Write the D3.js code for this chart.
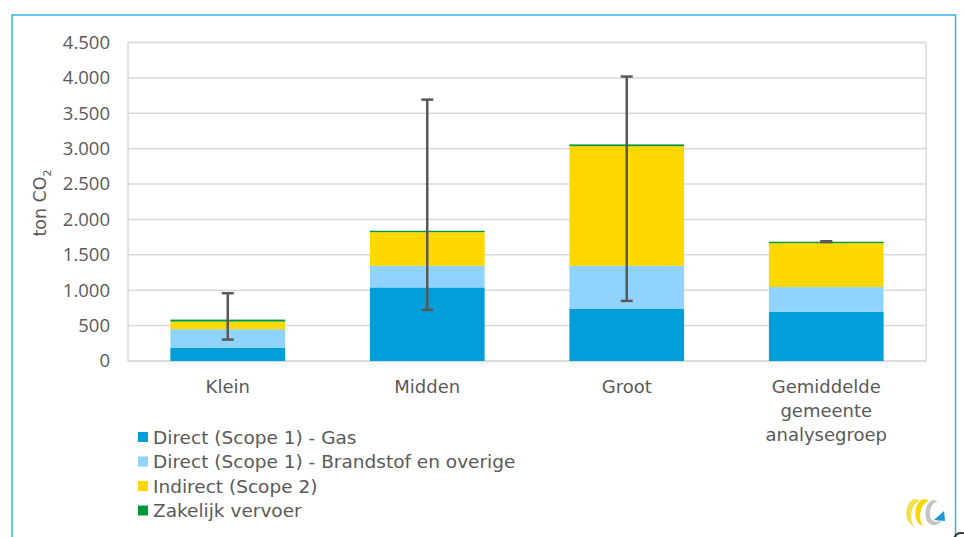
<!DOCTYPE html>
<html>
<head>
<meta charset="utf-8">
<script src="https://cdn.jsdelivr.net/npm/d3@7"></script>
<style>
  body { margin: 0; background: #fff; }
  svg { display: block; }
  .tick text { font-family: "Open Sans", sans-serif; font-size: 18.5px; fill: #595959; }
  .cat, .legend text, .ytitle { font-family: "DejaVu Sans", sans-serif; fill: #595959; }
</style>
</head>
<body>
<svg width="964" height="537"></svg>
<script>
const svg = d3.select("svg");

// data
const categories = ["Klein", "Midden", "Groot", "Gemiddelde gemeente analysegroep"];
const seriesNames = [
  "Direct (Scope 1) - Gas",
  "Direct (Scope 1) - Brandstof en overige",
  "Indirect (Scope 2)",
  "Zakelijk vervoer"
];
const gas = [190, 1040, 740, 695];
const brandstof = [260, 305, 605, 350];
const indirect = [107, 475, 1690, 620];
const vervoer = [28, 20, 25, 20];
const errLow = [302, 722, 849, 1680];
const errHigh = [958, 3693, 4019, 1692];
const yTicks = [0, 500, 1000, 1500, 2000, 2500, 3000, 3500, 4000, 4500];

const colors = ["#009fda", "#8fd3fe", "#ffd800", "#00973a"];

const rows = categories.map((c, i) => ({
  cat: c,
  s0: gas[i], s1: brandstof[i], s2: indirect[i], s3: vervoer[i]
}));

const x = d3.scaleBand().domain(categories).range([128, 926]).paddingInner(0.425).paddingOuter(0.2125);
const y = d3.scaleLinear().domain([0, 4500]).range([361, 42.5]);

// outer frame
svg.append("rect")
  .attr("x", 12).attr("y", 15)
  .attr("width", 943.5).attr("height", 540)
  .attr("fill", "none")
  .attr("stroke", "#35b2e6")
  .attr("stroke-width", 1.5);

// gridlines
svg.append("g")
  .selectAll("line")
  .data(yTicks)
  .enter()
  .append("line")
  .attr("x1", 128).attr("x2", 926)
  .attr("y1", d => y(d)).attr("y2", d => y(d))
  .attr("stroke", "#d9d9d9")
  .attr("stroke-width", 1.5);

// plot border
svg.append("rect")
  .attr("x", 128).attr("y", y(4500))
  .attr("width", 798).attr("height", y(0) - y(4500))
  .attr("fill", "none")
  .attr("stroke", "#d9d9d9")
  .attr("stroke-width", 1.5);

// y axis labels
const yAxis = svg.append("g")
  .attr("transform", "translate(128,0)")
  .call(d3.axisLeft(y).tickValues(yTicks).tickSize(0).tickPadding(18)
    .tickFormat(d => d3.format(",")(d).replace(/,/g, ".")));
yAxis.select(".domain").remove();

svg.append("text")
  .attr("class", "ytitle")
  .attr("transform", "translate(46,203) rotate(-90)")
  .attr("text-anchor", "middle")
  .attr("font-size", 17.5)
  .html('ton CO<tspan font-size="11" dy="5">2</tspan>');

// stacked bars
const stack = d3.stack().keys(["s0", "s1", "s2", "s3"]);
const layers = stack(rows);

svg.append("g")
  .selectAll("g")
  .data(layers)
  .enter()
  .append("g")
  .attr("fill", (d, i) => colors[i])
  .selectAll("rect")
  .data(d => d)
  .enter()
  .append("rect")
  .attr("x", d => x(d.data.cat))
  .attr("width", x.bandwidth())
  .attr("y", d => y(d[1]))
  .attr("height", d => y(d[0]) - y(d[1]));

// error bars
const eb = svg.append("g")
  .attr("stroke", "#595959")
  .attr("stroke-width", 2.5)
  .selectAll("g")
  .data(categories)
  .enter()
  .append("g");

eb.append("line")
  .attr("x1", d => x(d) + x.bandwidth() / 2)
  .attr("x2", d => x(d) + x.bandwidth() / 2)
  .attr("y1", (d, i) => y(errLow[i]))
  .attr("y2", (d, i) => y(errHigh[i]));

[errLow, errHigh].forEach(arr => {
  eb.append("line")
    .attr("x1", d => x(d) + x.bandwidth() / 2 - 6)
    .attr("x2", d => x(d) + x.bandwidth() / 2 + 6)
    .attr("y1", (d, i) => y(arr[i]))
    .attr("y2", (d, i) => y(arr[i]));
});

// category labels
const catLines = [["Klein"], ["Midden"], ["Groot"], ["Gemiddelde", "gemeente", "analysegroep"]];
svg.append("g")
  .selectAll("text")
  .data(categories)
  .enter()
  .append("text")
  .attr("class", "cat")
  .attr("font-size", 18)
  .attr("text-anchor", "middle")
  .attr("x", d => x(d) + x.bandwidth() / 2)
  .attr("y", 393)
  .selectAll("tspan")
  .data((d, i) => catLines[i])
  .enter()
  .append("tspan")
  .attr("x", function () { return this.parentNode.getAttribute("x"); })
  .attr("dy", (d, i) => (i === 0 ? 0 : 24))
  .text(d => d);

// legend
const legend = svg.append("g")
  .attr("class", "legend")
  .selectAll("g")
  .data(seriesNames)
  .enter()
  .append("g")
  .attr("transform", (d, i) => `translate(138, ${437 + i * 24.5})`);

legend.append("rect")
  .attr("x", 0).attr("y", -5)
  .attr("width", 10).attr("height", 10)
  .attr("fill", (d, i) => colors[i]);

legend.append("text")
  .attr("x", 15).attr("y", 6.5)
  .attr("font-size", 18.5)
  .text(d => d);

// logo
const logo = svg.append("g").attr("transform", "translate(903,498)");
logo.append("path")
  .attr("d", "M13,1 C1,2 0,25 11,28 C6,22 7,6 17,3 Z")
  .attr("fill", "#f1e04a");
logo.append("path")
  .attr("d", "M22,1 C10,2 9,25 20,28 C15,22 16,6 26,3 Z")
  .attr("fill", "#f7d600");
logo.append("path")
  .attr("d", "M31,2 C21,3 19,25 29,27 C35,28 38,24 39,22 C34,25 26,24 27,14 C28,6 32,4 35,4 Z")
  .attr("fill", "#c4c4c4");
logo.append("path")
  .attr("d", "M31,22 L41,13 L42,23 Z")
  .attr("fill", "#1a9ad8");

svg.append("text")
  .attr("x", 952).attr("y", 548)
  .attr("font-family", "DejaVu Sans")
  .attr("font-size", 22)
  .attr("fill", "#333")
  .text("C");
</script>
</body>
</html>
